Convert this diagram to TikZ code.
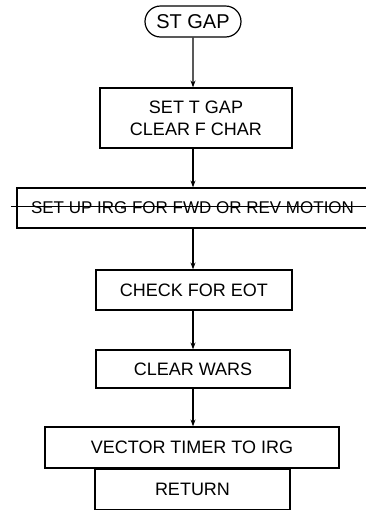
\documentclass[tikz,border=0pt]{standalone}
\usepackage{fontspec}
\setmainfont{Liberation Sans}
\usetikzlibrary{shapes.misc,arrows.meta}

\tikzset{
  stepbox/.style={draw, line width=1.2pt, inner sep=2pt, align=center,
    font=\fontsize{18}{22}\selectfont},
  termbox/.style={stepbox, rounded rectangle, font=\fontsize{20}{24}\selectfont},
  flow/.style={line width=1.2pt, -{Stealth[length=7pt,width=5pt]}}
}

\begin{document}
\begin{tikzpicture}[x=1pt,y=-1pt]
    \useasboundingbox (0,0) rectangle (366,512);

    \node[termbox, minimum width=100pt, minimum height=31pt] (stgap) at (193,21.5) {ST GAP};
    \node[stepbox, minimum width=192pt, minimum height=60pt] (settgap) at (196,118) {SET T GAP\\CLEAR F CHAR};
    \node[stepbox, minimum width=351pt, minimum height=40pt,
      font=\fontsize{17}{20}\selectfont] (setup) at (192.5,208) {SET UP IRG FOR FWD OR REV MOTION};
    \node[stepbox, minimum width=196pt, minimum height=40pt] (eot) at (194,290) {CHECK FOR EOT};
    \node[stepbox, minimum width=194pt, minimum height=38pt] (wars) at (193,369) {CLEAR WARS};
    \node[stepbox, minimum width=294pt, minimum height=41pt] (vector) at (192,447.5) {VECTOR TIMER TO IRG};
    \node[stepbox, minimum width=195pt, minimum height=40pt, anchor=north] (ret) at (vector.south -| 192.5,0) {RETURN};

    % line through the motion step
    \draw[line width=0.6pt] ([xshift=-5pt,yshift=2pt]setup.west) -- ([yshift=2pt]setup.east);

    \draw[flow] (stgap) -- (stgap |- settgap.north);
    \draw[flow] (stgap |- settgap.south) -- (stgap |- setup.north);
    \draw[flow] (stgap |- setup.south) -- (stgap |- eot.north);
    \draw[flow] (stgap |- eot.south) -- (stgap |- wars.north);
    \draw[flow] (stgap |- wars.south) -- (stgap |- vector.north);
  \end{tikzpicture}
\end{document}
